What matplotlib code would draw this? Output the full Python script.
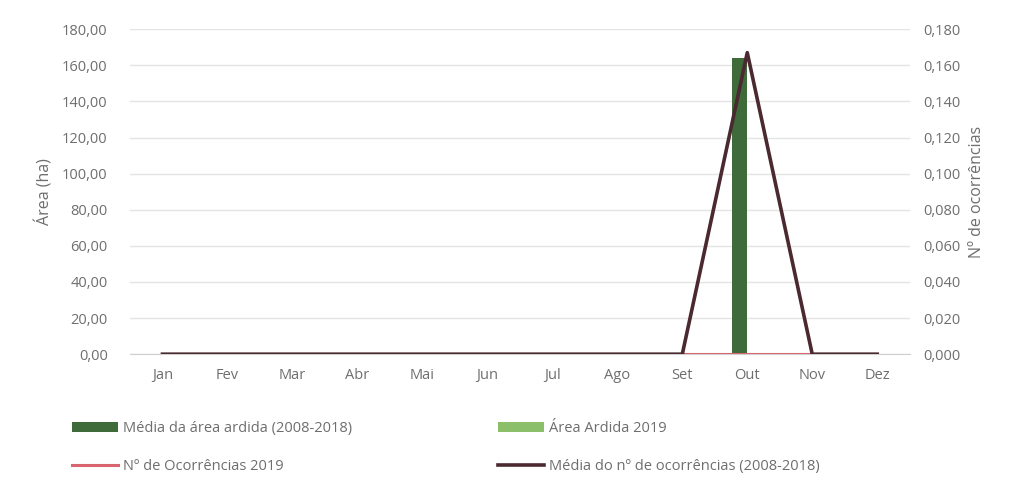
import matplotlib.pyplot as plt
import numpy as np
from matplotlib.ticker import FuncFormatter

meses = ['Jan', 'Fev', 'Mar', 'Abr', 'Mai', 'Jun', 'Jul', 'Ago', 'Set', 'Out', 'Nov', 'Dez']
media_area = [0, 0, 0, 0, 0, 0, 0, 0, 0, 164.0, 0, 0]
area_2019 = [0, 0, 0, 0, 0, 0, 0, 0, 0, 0, 0, 0]
ocorr_2019 = [0, 0, 0, 0, 0, 0, 0, 0, 0, 0, 0, 0]
media_ocorr = [0, 0, 0, 0, 0, 0, 0, 0, 0, 0.167, 0, 0]

plt.rcParams['font.family'] = ['Open Sans', 'DejaVu Sans']
cinza = '#6e6e6e'

fig = plt.figure(figsize=(10.1, 4.78), dpi=100)
ax = fig.add_axes([0.1287, 0.259, 0.772, 0.68])
ax2 = ax.twinx()

x = np.arange(len(meses))
w = 0.23
b1 = ax.bar(x - w / 2, media_area, w, color='#3f6b3a', label='Média da área ardida (2008-2018)', zorder=2)
b2 = ax.bar(x + w / 2, area_2019, w, color='#8cbf6a', label='Área Ardida 2019', zorder=2)

l1, = ax2.plot(x, ocorr_2019, color='#d9666f', lw=2.2, label='Nº de Ocorrências 2019', zorder=2)
l2, = ax2.plot(x, media_ocorr, color='#4a2a30', lw=2.6, label='Média do nº de ocorrências (2008-2018)', zorder=3)

ax.set_ylim(0, 180)
ax.set_yticks(np.arange(0, 181, 20))
ax2.set_ylim(0, 0.18)
ax2.set_yticks(np.arange(0, 0.181, 0.02))
ax.set_xlim(-0.5, 11.5)
ax.set_xticks(x)
ax.set_xticklabels(meses)

ax.yaxis.set_major_formatter(FuncFormatter(lambda v, p: f'{v:.2f}'.replace('.', ',')))
ax2.yaxis.set_major_formatter(FuncFormatter(lambda v, p: f'{v:.3f}'.replace('.', ',')))

ax.grid(axis='y', color='#e4e4e4', lw=1, zorder=0)
ax.set_axisbelow(True)
for a in (ax, ax2):
    for s in a.spines.values():
        s.set_visible(False)
    a.tick_params(length=0, colors=cinza, labelsize=10.5)
ax.spines['bottom'].set_visible(True)
ax.spines['bottom'].set_color('#d0d0d0')
ax.tick_params(axis='y', pad=16)
ax2.tick_params(axis='y', pad=10)
ax.tick_params(axis='x', pad=10)

ax.set_ylabel('Área (ha)', color=cinza, fontsize=11.5, labelpad=6)
ax2.set_ylabel('Nº de ocorrências', color=cinza, fontsize=11.5, labelpad=6)

# ncol=2 fills column by column
fig.legend([b1, l1, b2, l2],
           [b1.get_label(), l1.get_label(), b2.get_label(), l2.get_label()],
           loc='lower left', bbox_to_anchor=(0.058, -0.02), ncol=2, frameon=False,
           fontsize=10.5, labelcolor=cinza, columnspacing=10, handlelength=3.2,
           handletextpad=0.3, labelspacing=1.6)

fig.savefig('out.png', dpi=100)
